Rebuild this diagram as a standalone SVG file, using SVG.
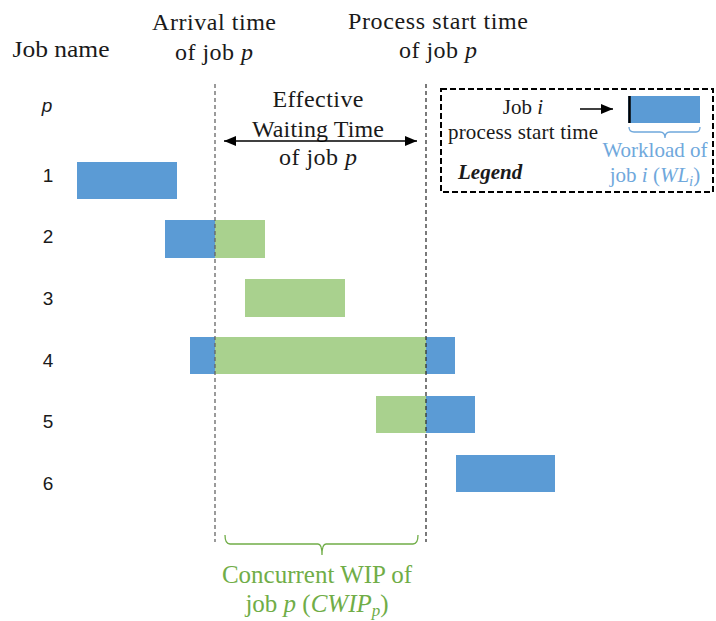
<svg xmlns="http://www.w3.org/2000/svg" width="716" height="621" viewBox="0 0 716 621">
<defs>
<marker id="ah" viewBox="0 0 12 10" refX="12" refY="5" markerWidth="12" markerHeight="10" markerUnits="userSpaceOnUse" orient="auto-start-reverse">
<path d="M0,0 L12,5 L0,10 Z" fill="#000"/>
</marker>
</defs>
<style>
.serif{font-family:"Times New Roman","Liberation Serif",serif;font-size:24px;fill:#1a1a1a;}
.lg{font-size:21px;}
.row{font-family:"Liberation Sans",Arial,sans-serif;font-size:19px;fill:#1a1a1a;}
.it{font-style:italic;}
.blue{fill:#5B9BD5;}
.green{fill:#A9D18E;}
.vdash{stroke-width:1.3;stroke-dasharray:4 3;fill:none;}
.lbl-b{fill:#6FA8DC;}
.lbl-g{fill:#70AD47;font-size:25px;}
</style>
<rect width="716" height="621" fill="#fff"/>

<g id="headers">
<text class="serif" x="61" y="57" text-anchor="middle" textLength="97" lengthAdjust="spacingAndGlyphs">Job name</text>
<text class="serif" x="214" y="30" text-anchor="middle" textLength="124">Arrival time</text>
<text class="serif" x="214" y="60" text-anchor="middle" textLength="78">of job <tspan class="it">p</tspan></text>
<text class="serif" x="438" y="29" text-anchor="middle" textLength="180">Process start time</text>
<text class="serif" x="438" y="58" text-anchor="middle" textLength="78">of job <tspan class="it">p</tspan></text>
</g>

<g id="row-labels">
<text class="row it" x="47" y="112" text-anchor="middle">p</text>
<text class="row" x="48" y="182" text-anchor="middle">1</text>
<text class="row" x="48" y="243" text-anchor="middle">2</text>
<text class="row" x="48" y="305" text-anchor="middle">3</text>
<text class="row" x="48" y="367" text-anchor="middle">4</text>
<text class="row" x="48" y="428" text-anchor="middle">5</text>
<text class="row" x="48" y="490" text-anchor="middle">6</text>
</g>

<g id="job1"><rect class="blue" x="77" y="162" width="100" height="37"/></g>
<g id="job2"><rect class="blue" x="165" y="220" width="50" height="38"/><rect class="green" x="215" y="220" width="50" height="38"/></g>
<g id="job3"><rect class="green" x="245" y="279" width="100" height="38"/></g>
<g id="job4"><rect class="blue" x="190" y="337" width="25" height="37"/><rect class="green" x="215" y="337" width="211" height="37"/><rect class="blue" x="426" y="337" width="29" height="37"/></g>
<g id="job5"><rect class="green" x="376" y="396" width="50" height="37"/><rect class="blue" x="426" y="396" width="49" height="37"/></g>
<g id="job6"><rect class="blue" x="456" y="455" width="99" height="37"/></g>

<g id="effective-waiting-label">
<text class="serif" x="318" y="107" text-anchor="middle" textLength="91">Effective</text>
<text class="serif" x="318" y="137" text-anchor="middle" textLength="132">Waiting Time</text>
<text class="serif" x="318" y="165" text-anchor="middle" textLength="78">of job <tspan class="it">p</tspan></text>
</g>

<g id="legend">
<rect x="441" y="89" width="272" height="103" fill="none" stroke="#000" stroke-width="2" stroke-dasharray="6 3"/>
<text class="serif lg" x="523" y="114" text-anchor="middle">Job <tspan class="it">i</tspan></text>
<text class="serif lg" x="523" y="139" text-anchor="middle" textLength="150">process start time</text>
<text class="serif lg" x="458" y="179" font-weight="bold" font-style="italic">Legend</text>
<rect class="blue" x="628" y="96" width="72" height="27"/>
<line x1="629.5" y1="96" x2="629.5" y2="123" stroke="#000" stroke-width="2.5"/>
<path d="M629,127 Q629,132 634,132 L660,132 Q665,132 665,138 Q665,132 670,132 L696,132 Q700,132 700,127" fill="none" stroke="#6FA8DC" stroke-width="1.3"/>
<text class="serif lg lbl-b" x="655" y="157" text-anchor="middle">Workload of</text>
<text class="serif lg lbl-b" x="655" y="182" text-anchor="middle">job <tspan class="it">i</tspan> (<tspan class="it">WL</tspan><tspan class="it" style="font-size:15px" dy="4">i</tspan><tspan dy="-4">)</tspan></text>
<line x1="580" y1="109" x2="613" y2="109" stroke="#000" stroke-width="1.5" marker-end="url(#ah)"/>
</g>

<g id="cwip-label">
<path d="M225,535 Q225,544 230,544 L318,544 Q322,544 322,555 Q322,544 326,544 L413,544 Q418,544 418,535" fill="none" stroke="#70AD47" stroke-width="1.3"/>
<text class="serif lbl-g" x="317" y="583" text-anchor="middle">Concurrent WIP of</text>
<text class="serif lbl-g" x="317" y="612" text-anchor="middle">job <tspan class="it">p</tspan> (<tspan class="it">CWIP</tspan><tspan class="it" style="font-size:17px" dy="4">p</tspan><tspan dy="-4">)</tspan></text>
</g>

<g id="connectors">
<line class="vdash" x1="215" y1="84" x2="215" y2="542" stroke="#666"/>
<line class="vdash" x1="426" y1="84" x2="426" y2="542" stroke="#333"/>
<line x1="224" y1="141" x2="417" y2="141" stroke="#000" stroke-width="1.5" marker-start="url(#ah)" marker-end="url(#ah)"/>
</g>
</svg>
